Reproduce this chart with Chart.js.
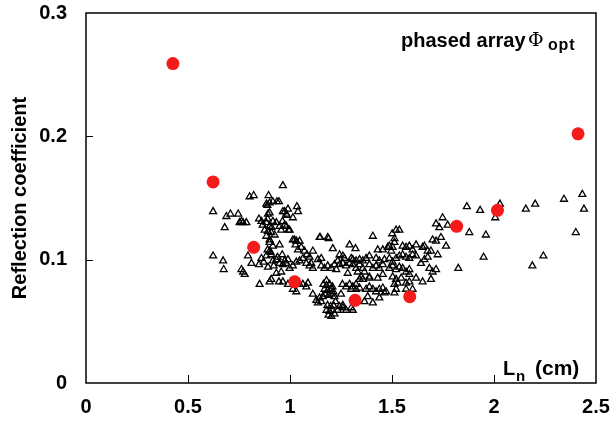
<!DOCTYPE html>
<html>
<head>
<meta charset="utf-8">
<script src="https://cdn.jsdelivr.net/npm/chart.js@4.4.1/dist/chart.umd.min.js"></script>
<style>
  html, body { margin: 0; padding: 0; background: #fff; }
  #wrap { width: 610px; height: 422px; }
</style>
</head>
<body>
<div id="wrap"><canvas id="reflChart"></canvas></div>
<script>
// phased array with optimum phase: reflection coefficient vs L_n
const phasedLn   = [0.426, 0.623, 0.822, 1.023, 1.319, 1.587, 1.817, 2.017, 2.412];
const phasedRefl = [0.259, 0.163, 0.110, 0.082, 0.067, 0.070, 0.127, 0.140, 0.202];

// scattered single-element results
const scanLn = [
  0.623, 0.680, 0.688, 0.708, 0.746, 0.753, 0.762, 0.770, 0.786, 0.802, 0.822, 0.895,
  0.965, 0.884, 0.900, 0.916, 0.936, 0.946, 0.889, 0.974, 0.990, 0.982, 1.034, 1.039,
  1.014, 0.848, 0.860, 0.900, 0.892, 0.965, 0.985, 0.866, 0.884, 0.900, 0.916, 0.933,
  0.949, 0.957, 0.876, 0.892, 0.908, 0.925, 0.884, 0.900, 0.910, 0.890, 0.963, 0.974,
  0.982, 0.993, 0.949, 0.900, 0.916, 0.890, 0.905, 1.014, 1.031, 1.047, 1.027, 1.039,
  1.071, 1.083, 1.096, 1.112, 1.145, 1.185, 0.623, 0.672, 0.675, 0.762, 0.770, 0.778,
  0.794, 0.811, 0.848, 0.860, 0.884, 0.900, 0.908, 0.916, 0.933, 0.949, 0.965, 0.982,
  0.990, 0.974, 0.892, 0.933, 0.957, 0.851, 0.900, 0.908, 0.946, 0.965, 0.962, 0.990,
  0.939, 0.920, 0.871, 0.998, 1.022, 1.148, 1.189, 1.055, 1.210, 1.292, 1.321, 1.063,
  1.047, 1.031, 1.153, 1.137, 1.243, 1.259, 1.267, 1.300, 1.308, 1.324, 1.341, 1.357,
  1.373, 1.014, 0.998, 1.080, 1.096, 1.112, 1.104, 1.153, 1.169, 1.185, 1.202, 1.218,
  1.227, 1.234, 1.243, 1.259, 1.275, 1.292, 1.308, 1.324, 1.341, 1.357, 1.283, 1.332,
  1.365, 1.349, 1.341, 1.357, 1.389, 1.031, 1.047, 1.063, 1.080, 1.088, 1.014, 1.031,
  1.112, 1.129, 1.145, 1.161, 1.164, 1.179, 1.194, 1.208, 1.169, 1.184, 1.199, 1.213,
  1.174, 1.189, 1.203, 1.218, 1.179, 1.257, 1.275, 1.292, 1.308, 1.324, 1.300, 1.324,
  1.341, 1.250, 1.184, 1.199, 1.213, 1.179, 1.194, 1.208, 1.189, 1.203, 1.218, 1.243,
  1.259, 1.275, 1.259, 1.300, 1.308, 1.373, 1.381, 1.365, 1.153, 1.137, 1.234, 1.223,
  1.716, 1.732, 1.773, 1.536, 1.520, 1.501, 1.512, 1.406, 1.699, 1.716, 1.740, 1.765,
  1.618, 1.650, 1.659, 1.512, 1.503, 1.496, 1.487, 1.430, 1.455, 1.479, 1.552, 1.569,
  1.585, 1.601, 1.675, 1.691, 1.724, 1.389, 1.422, 1.438, 1.463, 1.487, 1.503, 1.520,
  1.536, 1.552, 1.569, 1.585, 1.601, 1.618, 1.642, 1.659, 1.675, 1.389, 1.406, 1.422,
  1.438, 1.455, 1.487, 1.503, 1.520, 1.536, 1.552, 1.569, 1.585, 1.683, 1.699, 1.716,
  1.389, 1.430, 1.455, 1.503, 1.520, 1.545, 1.585, 1.618, 1.650, 1.691, 1.512, 1.528,
  1.569, 1.585, 1.389, 1.406, 1.422, 1.438, 1.455, 1.463, 1.471, 1.512, 1.520, 1.569,
  1.601, 1.406, 1.438, 1.748, 1.867, 1.932, 1.879, 1.960, 2.006, 2.029, 2.156, 2.202,
  2.343, 2.433, 2.441, 2.401, 1.949, 1.825, 2.242, 2.188
];
const scanRefl = [
  0.139, 0.126, 0.135, 0.137, 0.137, 0.130, 0.131, 0.130, 0.130, 0.151, 0.152, 0.152,
  0.160, 0.145, 0.146, 0.147, 0.147, 0.147, 0.144, 0.139, 0.141, 0.137, 0.143, 0.139,
  0.134, 0.133, 0.131, 0.138, 0.137, 0.139, 0.136, 0.128, 0.130, 0.127, 0.131, 0.130,
  0.127, 0.124, 0.124, 0.123, 0.122, 0.120, 0.119, 0.116, 0.126, 0.133, 0.131, 0.128,
  0.127, 0.124, 0.112, 0.114, 0.111, 0.108, 0.106, 0.116, 0.115, 0.115, 0.112, 0.108,
  0.107, 0.104, 0.102, 0.107, 0.118, 0.118, 0.103, 0.099, 0.092, 0.092, 0.090, 0.088,
  0.103, 0.097, 0.096, 0.101, 0.103, 0.107, 0.104, 0.099, 0.100, 0.097, 0.096, 0.097,
  0.100, 0.099, 0.094, 0.089, 0.090, 0.080, 0.082, 0.084, 0.082, 0.082, 0.104, 0.080,
  0.102, 0.095, 0.098, 0.124, 0.116, 0.118, 0.117, 0.110, 0.109, 0.112, 0.109, 0.101,
  0.099, 0.098, 0.101, 0.100, 0.104, 0.103, 0.101, 0.101, 0.100, 0.099, 0.100, 0.099,
  0.101, 0.095, 0.093, 0.097, 0.095, 0.093, 0.097, 0.095, 0.093, 0.095, 0.093, 0.096,
  0.092, 0.099, 0.096, 0.097, 0.095, 0.097, 0.096, 0.093, 0.096, 0.093, 0.089, 0.090,
  0.090, 0.086, 0.084, 0.084, 0.085, 0.081, 0.080, 0.080, 0.078, 0.081, 0.076, 0.074,
  0.072, 0.067, 0.069, 0.070, 0.080, 0.079, 0.080, 0.078, 0.076, 0.075, 0.076, 0.074,
  0.072, 0.071, 0.072, 0.070, 0.083, 0.080, 0.078, 0.080, 0.078, 0.080, 0.076, 0.076,
  0.077, 0.072, 0.063, 0.062, 0.063, 0.059, 0.058, 0.059, 0.055, 0.054, 0.056, 0.062,
  0.061, 0.059, 0.063, 0.061, 0.059, 0.076, 0.070, 0.066, 0.066, 0.065, 0.059, 0.066,
  0.129, 0.126, 0.128, 0.124, 0.124, 0.121, 0.117, 0.119, 0.116, 0.115, 0.118, 0.111,
  0.112, 0.110, 0.111, 0.114, 0.110, 0.107, 0.111, 0.108, 0.108, 0.110, 0.111, 0.110,
  0.111, 0.108, 0.107, 0.107, 0.104, 0.103, 0.101, 0.099, 0.100, 0.101, 0.098, 0.101,
  0.103, 0.104, 0.102, 0.101, 0.104, 0.103, 0.097, 0.100, 0.102, 0.096, 0.093, 0.095,
  0.093, 0.096, 0.093, 0.095, 0.092, 0.094, 0.093, 0.090, 0.092, 0.093, 0.090, 0.092,
  0.086, 0.085, 0.088, 0.086, 0.084, 0.085, 0.088, 0.085, 0.082, 0.084, 0.080, 0.081,
  0.081, 0.082, 0.078, 0.076, 0.074, 0.076, 0.077, 0.073, 0.074, 0.073, 0.076, 0.076,
  0.076, 0.065, 0.069, 0.134, 0.143, 0.140, 0.122, 0.120, 0.134, 0.145, 0.141, 0.145,
  0.149, 0.153, 0.141, 0.122, 0.102, 0.093, 0.103, 0.095
];

const xTicks = [0, 0.5, 1, 1.5, 2, 2.5];
const yTicks = [0, 0.1, 0.2, 0.3];

const FONT = "'Liberation Sans', Arial, Helvetica, sans-serif";

const toPoints = (xs, ys) => xs.map((x, i) => ({ x: x, y: ys[i] }));

// keep tick labels from pushing the plot area around
const noEdgePadding = scale => {
  scale.paddingTop = 0;
  scale.paddingBottom = 0;
  scale.paddingLeft = 0;
  scale.paddingRight = 0;
};

// box around the plot, inward tick marks and the text labels
const framePlugin = {
  id: 'frame',
  afterDraw(chart) {
    const { ctx, chartArea: a, scales } = chart;
    ctx.save();
    ctx.strokeStyle = '#000';
    ctx.lineWidth = 1.5;
    ctx.strokeRect(a.left, a.top, a.right - a.left, a.bottom - a.top);

    ctx.lineWidth = 1;
    ctx.beginPath();
    xTicks.slice(1, -1).forEach(v => {
      const px = Math.round(scales.x.getPixelForValue(v)) + 0.5;
      ctx.moveTo(px, a.bottom);
      ctx.lineTo(px, a.bottom - 8);
    });
    yTicks.slice(1, -1).forEach(v => {
      const py = Math.round(scales.y.getPixelForValue(v)) + 0.5;
      ctx.moveTo(a.left, py);
      ctx.lineTo(a.left + 7, py);
    });
    ctx.stroke();

    ctx.fillStyle = '#000';
    ctx.textBaseline = 'alphabetic';

    // y axis title
    ctx.save();
    ctx.translate(26, (a.top + a.bottom) / 2);
    ctx.rotate(-Math.PI / 2);
    ctx.textAlign = 'center';
    ctx.font = 'bold 20px ' + FONT;
    ctx.fillText('Reflection coefficient', 0, 0);
    ctx.restore();

    // legend text, top right
    ctx.textAlign = 'left';
    ctx.font = 'bold 20px ' + FONT;
    ctx.fillText('phased array', 401, 47);
    ctx.font = "19px 'DejaVu Serif', 'Liberation Serif', serif";
    ctx.fillText('Φ', 528, 46);
    ctx.font = 'bold 16px ' + FONT;
    ctx.letterSpacing = '0.8px';
    ctx.fillText('opt', 548, 50);
    ctx.letterSpacing = '0px';

    // x axis title inside the plot
    ctx.font = 'bold 20px ' + FONT;
    ctx.fillText('L', 503, 375);
    ctx.font = 'bold 15px ' + FONT;
    ctx.fillText('n', 516, 381);
    ctx.font = 'bold 21px ' + FONT;
    ctx.fillText('(cm)', 535, 375);
    ctx.restore();
  }
};

new Chart(document.getElementById('reflChart'), {
  type: 'scatter',
  data: {
    datasets: [
      {
        label: 'phased array',
        data: toPoints(phasedLn, phasedRefl),
        pointStyle: 'circle',
        pointRadius: 6.5,
        backgroundColor: '#f51b1b',
        borderColor: '#f51b1b',
        borderWidth: 0,
        order: 0
      },
      {
        label: 'scan',
        data: toPoints(scanLn, scanRefl),
        pointStyle: 'triangle',
        pointRadius: 4,
        backgroundColor: 'rgba(255,255,255,0)',
        borderColor: '#000',
        borderWidth: 1.3,
        order: 1
      }
    ]
  },
  options: {
    responsive: true,
    maintainAspectRatio: false,
    animation: false,
    events: [],
    layout: {
      padding: { top: 13, right: 14, left: 0, bottom: 0 }
    },
    plugins: {
      legend: { display: false },
      tooltip: { enabled: false }
    },
    scales: {
      x: {
        type: 'linear',
        min: 0,
        max: 2.5,
        afterFit: scale => { scale.height = 39; noEdgePadding(scale); },
        afterBuildTicks: scale => { scale.ticks = xTicks.map(v => ({ value: v })); },
        grid: { display: false, drawTicks: false },
        border: { display: false },
        ticks: {
          color: '#000',
          padding: 12,
          font: { family: FONT, size: 20, weight: 'bold' },
          callback: v => String(v)
        }
      },
      y: {
        type: 'linear',
        min: 0,
        max: 0.3,
        afterFit: scale => { scale.width = 86; noEdgePadding(scale); },
        afterBuildTicks: scale => { scale.ticks = yTicks.map(v => ({ value: v })); },
        grid: { display: false, drawTicks: false },
        border: { display: false },
        ticks: {
          color: '#000',
          padding: 19,
          font: { family: FONT, size: 20, weight: 'bold' },
          callback: v => String(v)
        }
      }
    }
  },
  plugins: [framePlugin]
});
</script>
</body>
</html>
